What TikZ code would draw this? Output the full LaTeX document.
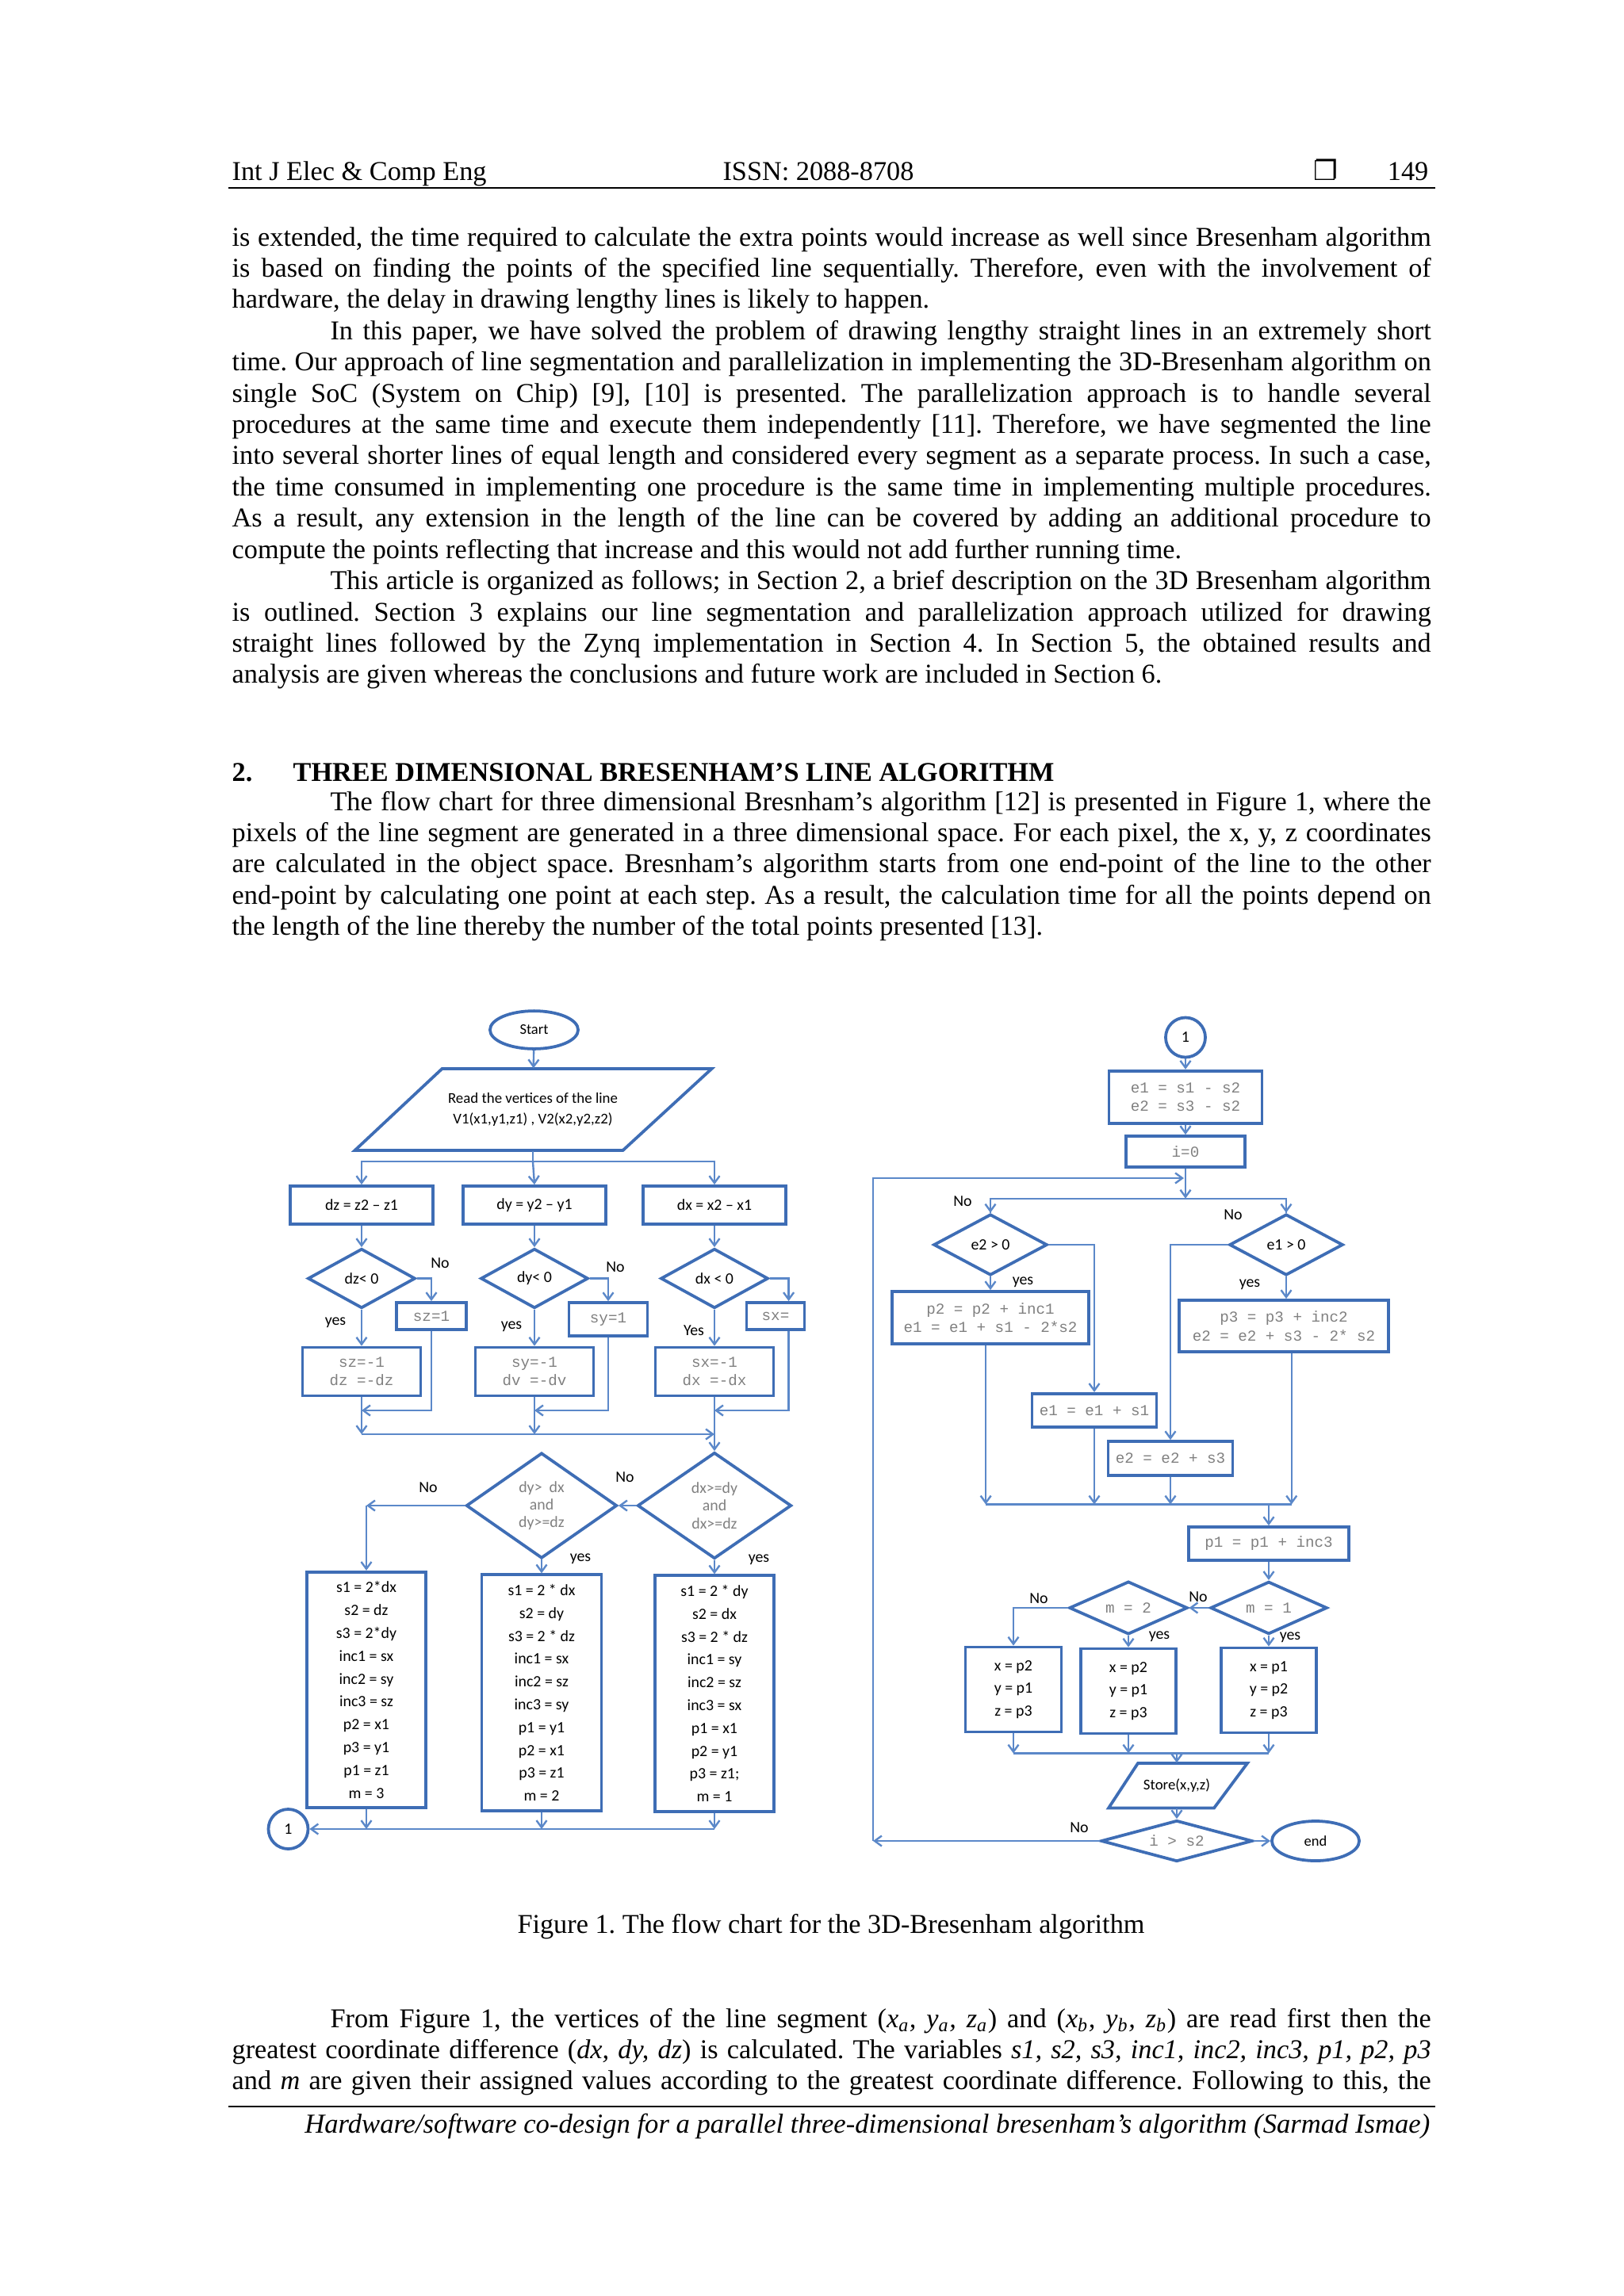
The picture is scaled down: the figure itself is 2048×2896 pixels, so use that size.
\documentclass[tikz,border=0pt]{standalone}
\usepackage{fontspec}
\setmainfont{Liberation Serif}
\newfontfamily\flowsans{Carlito}
\newfontfamily\flowmono{Liberation Mono}
\newfontfamily\dingfont{DejaVu Sans}
\usetikzlibrary{shapes.geometric,arrows.meta}
\definecolor{flowblue}{HTML}{3E6DB5}
\definecolor{lineblue}{HTML}{5B88C9}
\definecolor{codegray}{HTML}{808080}
\frenchspacing

\begin{document}
\begin{tikzpicture}[x=0.10254mm,y=-0.10254mm,
  flow/.style={draw=lineblue,line width=.7pt,-{Straight Barb[length=2.6pt,width=3.8pt]}},
  link/.style={draw=lineblue,line width=.7pt},
  shp/.style={draw=flowblue,line width=1.1pt,fill=white,inner sep=0pt},
  proc/.style={shp,rectangle,align=center,font=\flowsans\fontsize{5.8}{8.4}\selectfont},
  code/.style={shp,rectangle,align=center,text=codegray,font=\flowmono\fontsize{5.6}{6.8}\selectfont},
  test/.style={shp,diamond,aspect=2.2,align=center,font=\flowsans\fontsize{5.8}{6.5}\selectfont},
  term/.style={shp,ellipse,font=\flowsans\fontsize{5.4}{6}\selectfont},
  tag/.style={inner sep=0pt,font=\flowsans\fontsize{5.8}{6.5}\selectfont},
  page/.style={inner sep=0pt,font=\fontsize{10}{11.5}\selectfont},
  body/.style={page,anchor=base west,text width=155.04mm,align=justify}]
\fill[white] (0,0) rectangle (2048,2896);
\useasboundingbox (0,0) rectangle (2048,2896);

\node[page,anchor=base west] (jname) at (292,227) {Int J Elec \& Comp Eng};
\node[page,anchor=base] (issn) at (1032,227) {ISSN: 2088-8708};
\node[page,anchor=base] (mark) at (1672,227) {\dingfont ❐};
\node[page,anchor=base east] (pageno) at (1802,227) {149};
\draw[line width=.6pt] (288,237)--(1810,237);

\node[body] (parA) at (292,310) {\setlength{\parindent}{12.7mm}\noindent
is extended, the time required to calculate the extra points would increase as well since Bresenham algorithm\linebreak
is based on finding the points of the specified line sequentially. Therefore, even with the involvement of\linebreak
hardware, the delay in drawing lengthy lines is likely to happen.\par
In this paper, we have solved the problem of drawing lengthy straight lines in an extremely short\linebreak
time. Our approach of line segmentation and parallelization in implementing the 3D-Bresenham algorithm on\linebreak
single SoC (System on Chip) [9], [10] is presented. The parallelization approach is to handle several\linebreak
procedures at the same time and execute them independently [11]. Therefore, we have segmented the line\linebreak
into several shorter lines of equal length and considered every segment as a separate process. In such a case,\linebreak
the time consumed in implementing one procedure is the same time in implementing multiple procedures.\linebreak
As a result, any extension in the length of the line can be covered by adding an additional procedure to\linebreak
compute the points reflecting that increase and this would not add further running time.\par
This article is organized as follows; in Section 2, a brief description on the 3D Bresenham algorithm\linebreak
is outlined. Section 3 explains our line segmentation and parallelization approach utilized for drawing\linebreak
straight lines followed by the Zynq implementation in Section 4. In Section 5, the obtained results and\linebreak
analysis are given whereas the conclusions and future work are included in Section 6.};

\node[page,anchor=base west] (secno) at (292,985) {\bfseries 2.};
\node[page,anchor=base west] (sectitle) at (369,985) {\bfseries THREE DIMENSIONAL BRESENHAM’S LINE ALGORITHM};

\node[body] (parB) at (292,1022) {\setlength{\parindent}{12.7mm}\indent
The flow chart for three dimensional Bresnham’s algorithm [12] is presented in Figure 1, where the\linebreak
pixels of the line segment are generated in a three dimensional space. For each pixel, the x, y, z coordinates\linebreak
are calculated in the object space. Bresnham’s algorithm starts from one end-point of the line to the other\linebreak
end-point by calculating one point at each step. As a result, the calculation time for all the points depend on\linebreak
the length of the line thereby the number of the total points presented [13].};

\draw[draw=flowblue,line width=1.1pt] (557.5,1348)--(897.5,1348)--(785.5,1451)--(447.5,1451)--cycle;
\draw[draw=flowblue,line width=1.1pt] (1435,2224)--(1573,2224)--(1531,2280.5)--(1398,2280.5)--cycle;

\node[term,minimum width=11.4mm,minimum height=4.9mm] (start) at (673.5,1299) {Start};
\node[align=center,inner sep=0pt,minimum height=10.56mm,font=\flowsans\fontsize{5.5}{7.8}\selectfont] (readv) at (672,1399.5) {Read the vertices of the line\\V1(x1,y1,z1) , V2(x2,y2,z2)};
\node[proc,minimum width=18.5mm,minimum height=4.92mm] (dzbox) at (456,1520) {dz = z2 – z1};
\node[proc,minimum width=18.5mm,minimum height=4.92mm] (dybox) at (674,1520) {dy = y2 – y1};
\node[proc,minimum width=18.5mm,minimum height=4.92mm] (dxbox) at (901,1520) {dx = x2 – x1};
\node[test,minimum width=13.9mm,minimum height=7.7mm] (dzq) at (456,1612.5) {dz< 0};
\node[test,minimum width=13.9mm,minimum height=7.7mm] (dyq) at (674,1612.5) {dy< 0};
\node[test,minimum width=13.9mm,minimum height=7.7mm] (dxq) at (901,1612.5) {dx < 0};
\node[code,minimum width=9mm,minimum height=3.5mm] (szp) at (544,1660) {sz=1};
\node[code,minimum width=10.15mm,minimum height=4.3mm] (syp) at (767,1664) {sy=1};
\node[code,minimum width=7.5mm,minimum height=3.5mm] (sxp) at (978,1660) {sx=};
\node[code,minimum width=15.3mm,minimum height=6.25mm] (szn) at (456,1730) {sz=-1\\dz =-dz};
\node[code,minimum width=15.3mm,minimum height=6.25mm] (syn) at (674,1730) {sy=-1\\dv =-dv};
\node[code,minimum width=15.3mm,minimum height=6.25mm] (sxn) at (901,1730) {sx=-1\\dx =-dx};
\node[test,aspect=1.45,minimum width=19.9mm,minimum height=13.74mm,text=gray] (xq) at (901,1899) {dx>=dy\\and\\dx>=dz};
\node[test,aspect=1.45,minimum width=19.5mm,minimum height=13.64mm,text=gray] (yq) at (683,1899) {dy>~~dx\\and\\dy>=dz};
\node[proc,minimum width=15.45mm,minimum height=30.5mm] (setz) at (462,2131.5) {s1 = 2*dx\\s2 = dz\\s3 = 2*dy\\inc1 = sx\\inc2 = sy\\inc3 = sz\\p2 = x1\\p3 = y1\\p1 = z1\\m = 3};
\node[proc,minimum width=15.5mm,minimum height=30.5mm] (sety) at (683,2135) {s1 = 2 * dx\\s2 = dy\\s3 = 2 * dz\\inc1 = sx\\inc2 = sz\\inc3 = sy\\p1 = y1\\p2 = x1\\p3 = z1\\m = 2};
\node[proc,minimum width=15.4mm,minimum height=30.5mm] (setx) at (901,2136) {s1 = 2 * dy\\s2 = dx\\s3 = 2 * dz\\inc1 = sy\\inc2 = sz\\inc3 = sx\\p1 = x1\\p2 = y1\\p3 = z1;\\m = 1};
\node[proc,circle,minimum size=5.13mm] (conA) at (363.5,2307) {1};

\coordinate (jRead) at (672,1465);
\coordinate (jZ) at (456,1779);
\coordinate (jY) at (674,1779);
\coordinate (jX) at (901,1779);
\coordinate (kZ) at (456,1809);
\coordinate (kY) at (674,1809);
\coordinate (kX) at (901,1809);
\coordinate (jL) at (462,1899);
\coordinate (bZ) at (462,2307);
\coordinate (bY) at (683,2307);
\coordinate (bX) at (901,2307);

\draw[flow] (start)--(readv);
\draw[link] (readv.south)--(jRead);
\draw[flow] (jRead)-|(dzbox.north);
\draw[flow] (jRead)--(dybox.north);
\draw[flow] (jRead)-|(dxbox.north);
\draw[flow] (dzbox)--(dzq);
\draw[flow] (dybox)--(dyq);
\draw[flow] (dxbox)--(dxq);
\draw[flow] (dzq.east)-|(szp.north);
\draw[flow] (dyq.east)-|(syp.north);
\draw[flow] (dxq.east)-|([xshift=1.7mm]sxp.north);
\draw[flow] (dzq)--(szn);
\draw[flow] (dyq)--(syn);
\draw[flow] (dxq)--(sxn);
\draw[flow] (szp.south)|-(jZ);
\draw[flow] (syp.south)|-(jY);
\draw[flow] ([xshift=1.7mm]sxp.south)|-(jX);
\draw[flow] (szn.south)--(kZ);
\draw[flow] (syn.south)--(kY);
\draw[flow] (kZ)--(kX);
\draw[flow] (sxn.south)--(xq.north);
\draw[flow] (xq.west)--(yq.east);
\draw[flow] (yq.west)--(jL);
\draw[flow] (jL)--(setz.north);
\draw[flow] (yq.south)--(sety.north);
\draw[flow] (xq.south)--(setx.north);
\draw[flow] (setz.south)--(bZ);
\draw[flow] (sety.south)--(bY);
\draw[flow] (setx.south)--(bX);
\draw[flow] (bX)--(conA.east);

\node[tag] (noZ) at (555,1593) {No};
\node[tag] (noY) at (776,1598) {No};
\node[tag] (yesZ) at (423,1668) {yes};
\node[tag] (yesY) at (645,1673) {yes};
\node[tag] (yesX) at (875,1678) {Yes};
\node[tag] (noXq) at (788,1863) {No};
\node[tag] (noYq) at (540,1876) {No};
\node[tag] (yesYq) at (732,1966) {yes};
\node[tag] (yesXq) at (957,1967) {yes};

\node[proc,circle,minimum size=5.13mm] (conB) at (1495,1308.5) {1};
\node[code,minimum width=19.8mm,minimum height=6.77mm] (initE) at (1495,1383.7) {e1 = s1 - s2\\e2 = s3 - s2};
\node[code,minimum width=15.33mm,minimum height=4mm] (zeroI) at (1495,1452.5) {i=0};
\node[test,minimum width=14.7mm,minimum height=7.9mm] (e2q) at (1249,1570) {e2 > 0};
\node[test,minimum width=14.7mm,minimum height=7.9mm] (e1q) at (1622,1570) {e1 > 0};
\node[code,minimum width=25.5mm,minimum height=6.77mm] (upd1) at (1249,1662) {p2 = p2 + inc1\\e1 = e1 + s1 - 2*s2};
\node[code,minimum width=27.1mm,minimum height=6.67mm] (upd2) at (1619,1672.5) {p3 = p3 + inc2\\e2 = e2 + s3 - 2* s2};
\node[code,minimum width=16.1mm,minimum height=4.35mm] (adde1) at (1380,1779) {e1 = e1 + s1};
\node[code,minimum width=16.1mm,minimum height=4.4mm] (adde2) at (1476,1839.5) {e2 = e2 + s3};
\node[code,minimum width=20.7mm,minimum height=4.3mm] (incp) at (1600,1947) {p1 = p1 + inc3};
\node[test,minimum width=15.1mm,minimum height=6.8mm,font=\flowmono\fontsize{5.6}{6.5}\selectfont,text=codegray] (m1q) at (1600,2028) {m = 1};
\node[test,minimum width=15.3mm,minimum height=6.85mm,font=\flowmono\fontsize{5.6}{6.5}\selectfont,text=codegray] (m2q) at (1423,2028) {m = 2};
\node[proc,minimum width=12.4mm,minimum height=10.97mm] (outA) at (1278,2131) {x = p2\\y = p1\\z = p3};
\node[proc,minimum width=12.26mm,minimum height=10.97mm] (outB) at (1423,2133) {x = p2\\y = p1\\z = p3};
\node[proc,minimum width=12.26mm,minimum height=10.97mm] (outC) at (1600,2132) {x = p1\\y = p2\\z = p3};
\node[align=center,inner sep=0pt,minimum height=5.79mm,font=\flowsans\fontsize{5.5}{6.5}\selectfont] (store) at (1484,2252.25) {Store(x,y,z)};
\node[test,minimum width=19.6mm,minimum height=5.33mm,font=\flowmono\fontsize{5.6}{6.5}\selectfont,text=codegray] (stopq) at (1484,2322) {i > s2};
\node[term,minimum width=11.3mm,minimum height=5.13mm] (finish) at (1659,2322) {end};

\coordinate (jLoop) at (1493,1486);
\coordinate (jSplit) at (1495,1511.7);
\coordinate (jM) at (1600,1897.5);
\coordinate (jS) at (1484,2211.5);
\coordinate (back) at (1101,2322);

\draw[flow] (conB)--(initE);
\draw[flow] (initE)--(zeroI);
\draw[flow] (zeroI.south)--(jSplit);
\draw[flow] (back)|-(jLoop);
\draw[link] (jSplit)-|(e2q.north);
\draw[link] (jSplit)-|(e1q.north);
\draw[flow] (e2q.north|-jSplit)--(e2q.north);
\draw[flow] (e1q.north|-jSplit)--(e1q.north);
\draw[flow] (e2q)--(upd1);
\draw[flow] (e1q.south)--(e1q.south|-upd2.north);
\draw[flow] (e2q.east)-|(adde1.north);
\draw[flow] (e1q.west)-|(adde2.north);
\draw[flow] ([xshift=-.6mm]upd1.south)--([xshift=-.6mm]upd1.south|-jM);
\draw[flow] (adde1.south)--(adde1.south|-jM);
\draw[flow] (adde2.south)--(adde2.south|-jM);
\draw[flow] ([xshift=1mm]upd2.south)--([xshift=1mm]upd2.south|-jM);
\draw[link] ([xshift=-.6mm]upd1.south|-jM)--([xshift=1mm]upd2.south|-jM);
\draw[flow] (jM)--(incp.north);
\draw[flow] (incp)--(m1q);
\draw[flow] (m1q.west)--(m2q.east);
\draw[flow] (m2q.west)-|(outA.north);
\draw[flow] (m2q.south)--(outB.north);
\draw[flow] (m1q.south)--(outC.north);
\draw[flow] (outA.south)--(outA.south|-jS);
\draw[flow] (outB.south)--(outB.south|-jS);
\draw[flow] (outC.south)--(outC.south|-jS);
\draw[link] (outA.south|-jS)--(outC.south|-jS);
\draw[flow] (jS)--(store.north);
\draw[flow] (store.south)--(stopq.north);
\draw[flow] (stopq.east)--(finish.west);
\draw[flow] (stopq.west)--(back);

\node[tag] (noE2) at (1214,1515) {No};
\node[tag] (noE1) at (1555,1532) {No};
\node[tag] (yesE2) at (1290,1617) {yes};
\node[tag] (yesE1) at (1576,1620) {yes};
\node[tag] (noM2) at (1310,2016) {No};
\node[tag] (noM1) at (1511,2014) {No};
\node[tag] (yesM2) at (1462,2064) {yes};
\node[tag] (yesM1) at (1627,2065) {yes};
\node[tag] (noI) at (1361,2305) {No};

\node[page,anchor=base] (caption) at (1048,2438) {Figure 1. The flow chart for the 3D-Bresenham algorithm};

\node[body] (parC) at (292,2557) {\setlength{\parindent}{12.7mm}\parfillskip=0pt\indent
From Figure 1, the vertices of the line segment (\textit{x}\textsubscript{\textit{a}}\textit{, y}\textsubscript{\textit{a}}\textit{, z}\textsubscript{\textit{a}}) and (\textit{x}\textsubscript{\textit{b}}\textit{, y}\textsubscript{\textit{b}}\textit{, z}\textsubscript{\textit{b}}) are read first then the\linebreak
greatest coordinate difference (\textit{dx, dy, dz}) is calculated. The variables \textit{s1, s2, s3, inc1, inc2, inc3, p1, p2, p3}\linebreak
and \textit{m} are given their assigned values according to the greatest coordinate difference. Following to this, the\par};

\draw[line width=.6pt] (288,2657)--(1810,2657);
\node[page,anchor=base east] (footer) at (1804,2690) {\fontsize{10.1}{11.5}\selectfont\itshape Hardware/software co-design for a parallel three-dimensional bresenham’s algorithm (Sarmad Ismae)};
\end{tikzpicture}
\end{document}
